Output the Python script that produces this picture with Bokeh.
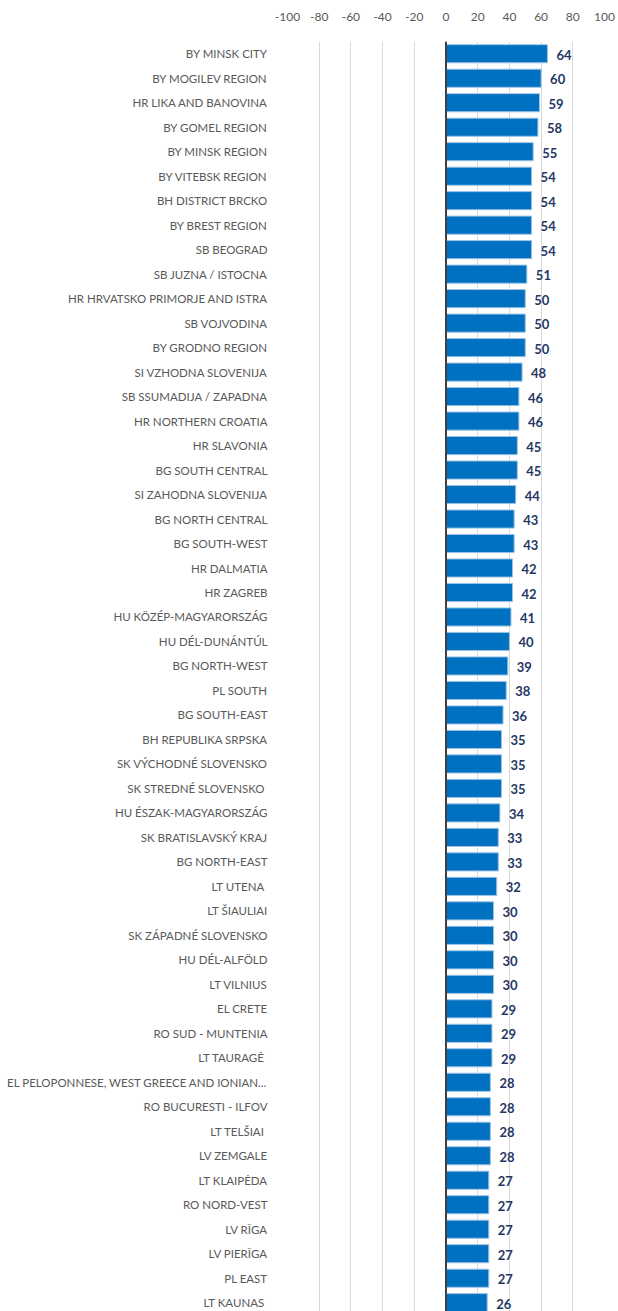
from bokeh.plotting import figure
from bokeh.models import ColumnDataSource, Range1d, FixedTicker, Span
from bokeh.core.properties import value
from bokeh.embed import file_html
from bokeh.resources import INLINE

regions = [
    "BY MINSK CITY", "BY MOGILEV REGION", "HR LIKA AND BANOVINA", "BY GOMEL REGION",
    "BY MINSK REGION", "BY VITEBSK REGION", "BH DISTRICT BRCKO", "BY BREST REGION",
    "SB BEOGRAD", "SB JUZNA / ISTOCNA", "HR HRVATSKO PRIMORJE AND ISTRA", "SB VOJVODINA",
    "BY GRODNO REGION", "SI VZHODNA SLOVENIJA", "SB SSUMADIJA / ZAPADNA", "HR NORTHERN CROATIA",
    "HR SLAVONIA", "BG SOUTH CENTRAL", "SI ZAHODNA SLOVENIJA", "BG NORTH CENTRAL",
    "BG SOUTH-WEST", "HR DALMATIA", "HR ZAGREB", "HU KÖZÉP-MAGYARORSZÁG",
    "HU DÉL-DUNÁNTÚL", "BG NORTH-WEST", "PL SOUTH", "BG SOUTH-EAST",
    "BH REPUBLIKA SRPSKA", "SK VÝCHODNÉ SLOVENSKO", "SK STREDNÉ SLOVENSKO ", "HU ÉSZAK-MAGYARORSZÁG",
    "SK BRATISLAVSKÝ KRAJ", "BG NORTH-EAST", "LT UTENA ", "LT ŠIAULIAI",
    "SK ZÁPADNÉ SLOVENSKO", "HU DÉL-ALFÖLD", "LT VILNIUS", "EL CRETE",
    "RO SUD - MUNTENIA", "LT TAURAGĖ ", "EL PELOPONNESE, WEST GREECE AND IONIAN...", "RO BUCURESTI - ILFOV",
    "LT TELŠIAI ", "LV ZEMGALE", "LT KLAIPĖDA", "RO NORD-VEST",
    "LV RĪGA", "LV PIERĪGA", "PL EAST", "LT KAUNAS ",
]
values = [
    64, 60, 59, 58, 55, 54, 54, 54, 54, 51, 50, 50, 50, 48, 46, 46, 45, 45, 44, 43,
    43, 42, 42, 41, 40, 39, 38, 36, 35, 35, 35, 34, 33, 33, 32, 30, 30, 30, 30, 29,
    29, 29, 28, 28, 28, 28, 27, 27, 27, 27, 27, 26,
]
x_ticks = [-100, -80, -60, -40, -20, 0, 20, 40, 60, 80, 100]
x_tick_labels = ["-100", "-80", "-60", "-40", "-20", "0", "20", "40", "60", "80", "100"]

pos = list(range(len(regions)))
src = ColumnDataSource(dict(y=pos, v=values, lab=[str(v) for v in values]))

FONT = "Lato"

p = figure(width=618, height=1311, output_backend="svg", toolbar_location=None,
           x_range=Range1d(-100, 100), y_range=Range1d(51.36, -0.5),
           x_axis_location="above", min_border_left=287, min_border_right=14,
           min_border_top=41, min_border_bottom=0)
p.outline_line_color = None

p.hbar(y="y", right="v", left=0, height=0.74, source=src,
       fill_color="#0070C0", line_color="#9DC3E6", line_width=1)

p.text(x="v", y="y", text="lab", source=src, x_offset=9, y_offset=1,
       text_align="left", text_baseline="middle", text_font=value(FONT),
       text_font_size="13px", text_font_style="bold", text_color="#1F3864")

p.add_layout(Span(location=0, dimension="height", line_color="#404040", line_width=2))

xa = p.xaxis[0]
xa.ticker = FixedTicker(ticks=x_ticks)
xa.major_label_overrides = {t: l for t, l in zip(x_ticks, x_tick_labels)}
xa.axis_line_color = None
xa.major_tick_line_color = None
xa.minor_tick_line_color = None
xa.major_label_text_font = FONT
xa.major_label_text_font_size = "12px"
xa.major_label_text_color = "#595959"
xa.major_label_standoff = 15

ya = p.yaxis[0]
ya.ticker = FixedTicker(ticks=pos)
ya.major_label_overrides = {i: r for i, r in enumerate(regions)}
ya.axis_line_color = None
ya.major_tick_line_color = None
ya.minor_tick_line_color = None
ya.major_label_text_font = FONT
ya.major_label_text_font_size = "11.5px"
ya.major_label_text_color = "#595959"
ya.major_label_standoff = 14

p.xgrid.ticker = FixedTicker(ticks=x_ticks)
p.xgrid.grid_line_color = "#D9D9D9"
p.xgrid.grid_line_width = 1
p.ygrid.grid_line_color = None

open("out.html", "w").write(file_html(p, INLINE))
